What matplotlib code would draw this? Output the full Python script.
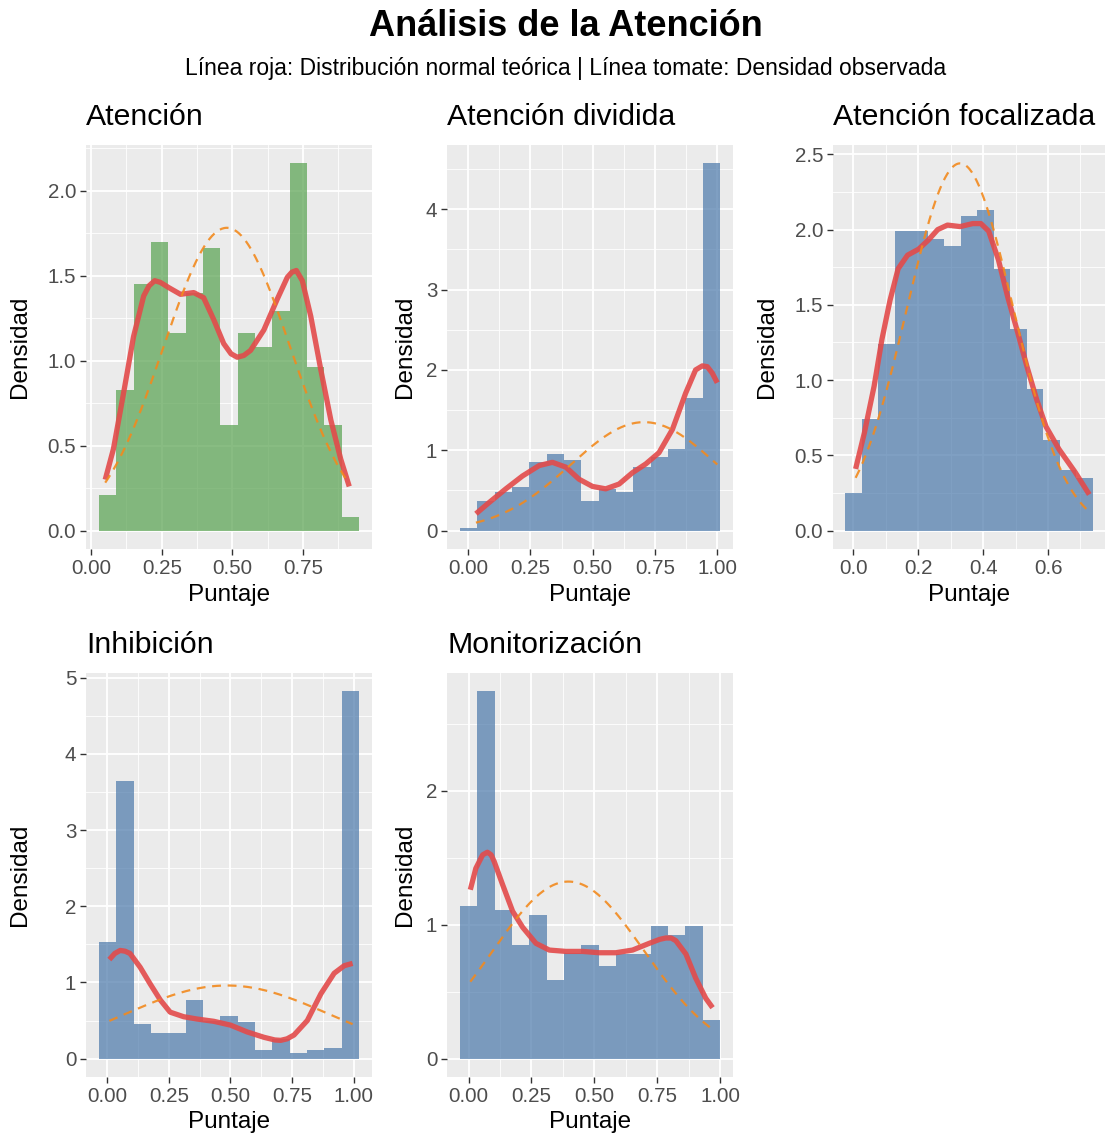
import numpy as np
import matplotlib
matplotlib.use("Agg")
import matplotlib.pyplot as plt

plt.rcParams["font.family"] = ["Liberation Sans", "DejaVu Sans"]

TITLE = "Análisis de la Atención"
SUBTITLE = "Línea roja: Distribución normal teórica | Línea tomate: Densidad observada"
PANEL_TITLES = ["Atención", "Atención dividida", "Atención focalizada", "Inhibición", "Monitorización"]

# histogram bins: left edge of first bin, bin width, bar heights (density)
atencion_start, atencion_width = 0.028, 0.0613
atencion_bars = [0.21, 0.83, 1.45, 1.70, 1.16, 1.40, 1.66, 0.62, 1.16, 1.08, 1.29, 2.16, 0.96, 0.62, 0.08]

dividida_start, dividida_width = -0.033, 0.0696
dividida_bars = [0.03, 0.37, 0.48, 0.54, 0.85, 0.95, 0.88, 0.37, 0.52, 0.48, 0.79, 0.92, 1.02, 1.65, 4.57]

focal_start, focal_width = -0.0246, 0.0508
focal_bars = [0.25, 0.74, 1.24, 1.99, 1.99, 1.94, 1.89, 2.09, 2.13, 1.74, 1.34, 0.94, 0.60, 0.40, 0.35]

inhib_start, inhib_width = -0.034, 0.0704
inhib_bars = [1.53, 3.65, 0.45, 0.33, 0.33, 0.77, 0.50, 0.56, 0.48, 0.11, 0.26, 0.07, 0.11, 0.14, 4.82]

monit_start, monit_width = -0.034, 0.0689
monit_bars = [1.14, 2.74, 1.11, 0.85, 1.07, 0.59, 0.79, 0.85, 0.69, 0.78, 0.78, 0.99, 0.92, 0.99, 0.29]

atencion_dx = [0.050, 0.079, 0.115, 0.150, 0.186, 0.205, 0.225, 0.245, 0.274, 0.316, 0.363, 0.398, 0.434,
               0.469, 0.495, 0.517, 0.540, 0.564, 0.611, 0.658, 0.694, 0.710, 0.726, 0.747, 0.777, 0.812,
               0.848, 0.883, 0.913]
atencion_dy = [0.30, 0.48, 0.81, 1.14, 1.38, 1.44, 1.47, 1.46, 1.43, 1.39, 1.40, 1.37, 1.24,
               1.10, 1.04, 1.02, 1.03, 1.06, 1.18, 1.36, 1.49, 1.52, 1.53, 1.47, 1.26, 0.95,
               0.65, 0.42, 0.26]

dividida_dx = [0.031, 0.084, 0.151, 0.218, 0.285, 0.338, 0.392, 0.445, 0.499, 0.552, 0.606, 0.659, 0.713,
               0.766, 0.820, 0.873, 0.913, 0.940, 0.960, 0.980, 1.000]
dividida_dy = [0.21, 0.35, 0.52, 0.68, 0.81, 0.85, 0.79, 0.64, 0.55, 0.52, 0.58, 0.72, 0.83,
               0.97, 1.26, 1.71, 2.00, 2.05, 2.04, 1.96, 1.84]

focal_dx = [0.007, 0.034, 0.064, 0.088, 0.113, 0.138, 0.167, 0.201, 0.231, 0.260, 0.290, 0.329, 0.368,
            0.393, 0.417, 0.447, 0.476, 0.506, 0.535, 0.565, 0.594, 0.634, 0.683, 0.727]
focal_dy = [0.41, 0.65, 0.96, 1.27, 1.53, 1.74, 1.83, 1.87, 1.93, 2.00, 2.03, 2.02, 2.04,
            2.04, 1.99, 1.80, 1.55, 1.32, 1.09, 0.87, 0.69, 0.54, 0.39, 0.24]

inhib_dx = [0.008, 0.030, 0.052, 0.072, 0.092, 0.133, 0.174, 0.215, 0.255, 0.310, 0.364, 0.432, 0.500,
            0.568, 0.636, 0.680, 0.704, 0.730, 0.758, 0.812, 0.867, 0.921, 0.962, 0.996]
inhib_dy = [1.30, 1.38, 1.42, 1.41, 1.38, 1.20, 0.98, 0.77, 0.61, 0.55, 0.52, 0.49, 0.44,
            0.35, 0.28, 0.245, 0.24, 0.26, 0.31, 0.50, 0.85, 1.12, 1.22, 1.25]

monit_dx = [0.007, 0.029, 0.056, 0.075, 0.090, 0.102, 0.135, 0.175, 0.215, 0.268, 0.321, 0.387, 0.453,
            0.519, 0.585, 0.652, 0.718, 0.760, 0.784, 0.805, 0.824, 0.864, 0.903, 0.943, 0.970]
monit_dy = [1.26, 1.42, 1.52, 1.54, 1.52, 1.47, 1.30, 1.10, 0.98, 0.86, 0.81, 0.80, 0.80,
            0.79, 0.79, 0.81, 0.86, 0.89, 0.90, 0.90, 0.88, 0.78, 0.60, 0.45, 0.38]

# theoretical normal (orange dashed): mean, sd
normal_mean = [0.48, 0.706, 0.329, 0.486, 0.397]
normal_sd = [0.224, 0.2955, 0.1635, 0.4156, 0.302]

x_ticks = [[0.0, 0.25, 0.5, 0.75], [0.0, 0.25, 0.5, 0.75, 1.0], [0.0, 0.2, 0.4, 0.6],
           [0.0, 0.25, 0.5, 0.75, 1.0], [0.0, 0.25, 0.5, 0.75, 1.0]]
x_labels = [["0.00", "0.25", "0.50", "0.75"], ["0.00", "0.25", "0.50", "0.75", "1.00"],
            ["0.0", "0.2", "0.4", "0.6"], ["0.00", "0.25", "0.50", "0.75", "1.00"],
            ["0.00", "0.25", "0.50", "0.75", "1.00"]]
y_ticks = [[0.0, 0.5, 1.0, 1.5, 2.0], [0, 1, 2, 3, 4], [0.0, 0.5, 1.0, 1.5, 2.0, 2.5],
           [0, 1, 2, 3, 4, 5], [0, 1, 2]]
y_labels = [["0.0", "0.5", "1.0", "1.5", "2.0"], ["0", "1", "2", "3", "4"],
            ["0.0", "0.5", "1.0", "1.5", "2.0", "2.5"], ["0", "1", "2", "3", "4", "5"], ["0", "1", "2"]]

panels = [
    (atencion_start, atencion_width, atencion_bars, atencion_dx, atencion_dy, "#56A14E"),
    (dividida_start, dividida_width, dividida_bars, dividida_dx, dividida_dy, "#4A78AA"),
    (focal_start, focal_width, focal_bars, focal_dx, focal_dy, "#4A78AA"),
    (inhib_start, inhib_width, inhib_bars, inhib_dx, inhib_dy, "#4A78AA"),
    (monit_start, monit_width, monit_bars, monit_dx, monit_dy, "#4A78AA"),
]

W, H = 1107, 1135
# panel boxes in pixels: left, top, right, bottom
boxes = [(86, 145, 372, 549), (447, 145, 733, 549), (833, 145, 1105, 549),
         (86, 673, 372, 1077), (447, 673, 733, 1077)]
# where the axis titles sit (pixel centres)
ylab_x = [20, 405, 767, 20, 405]
xlab_y = [595, 595, 595, 1122, 1122]

fig = plt.figure(figsize=(W / 100, H / 100), dpi=100)
fig.text(566 / W, 1 - 27 / H, TITLE, ha="center", va="center", fontsize=26, fontweight="bold")
fig.text(566 / W, 1 - 68 / H, SUBTITLE, ha="center", va="center", fontsize=16.5)


def minor_between(ticks):
    # midpoints, like ggplot's minor breaks
    step = ticks[1] - ticks[0]
    return [t + step / 2 for t in ticks]


for i, (start, width, bars, dx, dy, color) in enumerate(panels):
    l, t, r, b = boxes[i]
    ax = fig.add_axes([l / W, 1 - b / H, (r - l) / W, (b - t) / H])
    ax.set_facecolor("#EBEBEB")
    for s in ax.spines.values():
        s.set_visible(False)

    lefts = start + width * np.arange(len(bars))
    ax.bar(lefts, bars, width=width, align="edge", color=color, alpha=0.7, linewidth=0, zorder=2)

    xs = np.linspace(dx[0], dx[-1], 200)
    mu, sd = normal_mean[i], normal_sd[i]
    ys = np.exp(-0.5 * ((xs - mu) / sd) ** 2) / (sd * np.sqrt(2 * np.pi))
    ax.plot(dx, dy, color="#E34A4A", lw=3.8, alpha=0.9, solid_capstyle="butt",
            solid_joinstyle="round", zorder=3)
    ax.plot(xs, ys, color="#F28A1E", lw=1.6, ls=(0, (4, 3)), alpha=0.9, zorder=4)

    ax.set_xticks(x_ticks[i])
    ax.set_xticklabels(x_labels[i])
    ax.set_yticks(y_ticks[i])
    ax.set_yticklabels(y_labels[i])
    ax.set_xticks(minor_between(x_ticks[i]), minor=True)
    ax.set_yticks(minor_between(y_ticks[i]), minor=True)

    x0, x1 = lefts[0], lefts[-1] + width
    pad = 0.05 * (x1 - x0)
    ax.set_xlim(x0 - pad, x1 + pad)
    ymax = max(max(bars), max(dy), ys.max())
    ax.set_ylim(-0.05 * ymax, 1.05 * ymax)

    ax.grid(which="major", color="white", lw=1.3, zorder=0)
    ax.grid(which="minor", color="white", lw=0.6, zorder=0)
    ax.set_axisbelow(True)
    ax.tick_params(which="major", length=4, width=1, color="#333333", labelcolor="#4D4D4D",
                   labelsize=14.8, pad=3)
    ax.tick_params(which="minor", length=0)

    ax.set_xlabel("Puntaje", fontsize=17.5, va="center")
    ax.xaxis.set_label_coords(0.5, (b - xlab_y[i]) / (b - t))
    ax.set_ylabel("Densidad", fontsize=17.5, va="center")
    ax.yaxis.set_label_coords((ylab_x[i] - l) / (r - l), 0.5)
    ax.set_title(PANEL_TITLES[i], loc="left", fontsize=21.8, pad=14.5)

fig.savefig("out.png", dpi=100)
